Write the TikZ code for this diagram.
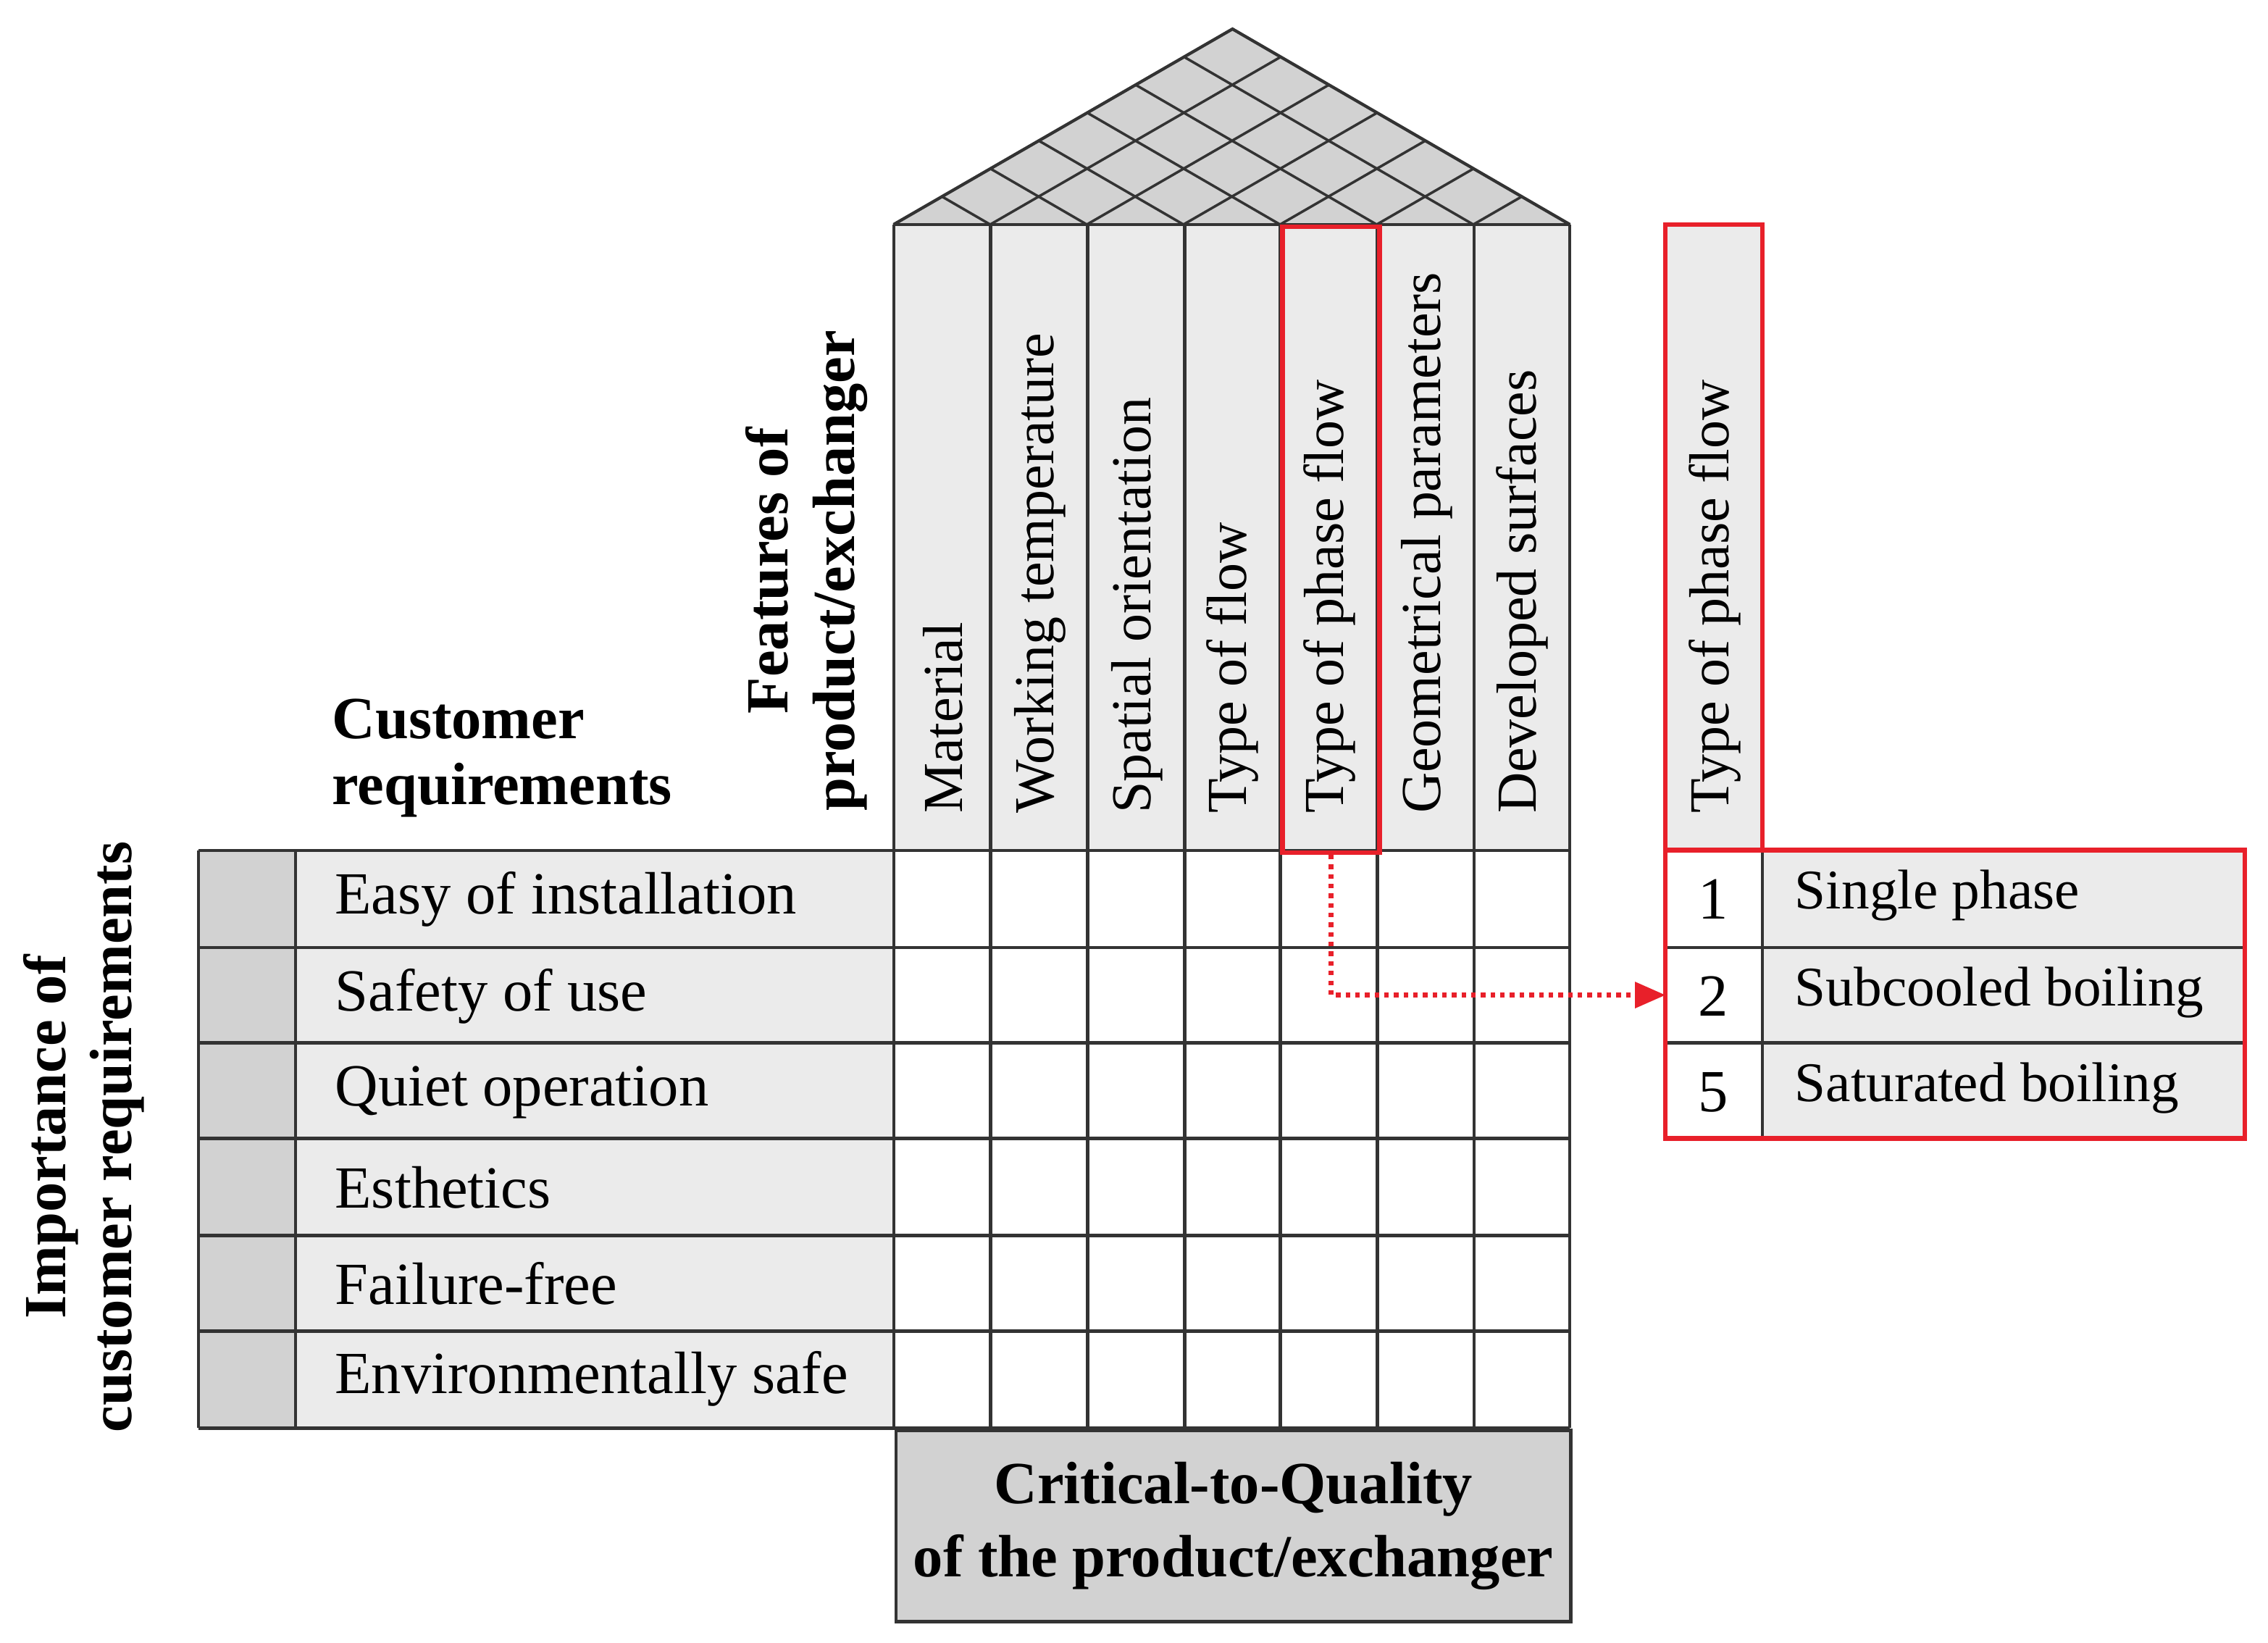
\documentclass[tikz,border=0pt]{standalone}
\usepackage{fontspec}
\setmainfont{Liberation Serif}
\usetikzlibrary{arrows.meta}
\definecolor{cellg}{HTML}{EBEBEB}
\definecolor{darkg}{HTML}{D2D2D2}
\definecolor{redq}{HTML}{E8202A}
\definecolor{linec}{HTML}{333333}
\begin{document}
\begin{tikzpicture}[x=0.02cm,y=-0.02cm,
  grid/.style={draw=linec,line width=1.2pt},
  txt/.style={font=\fontsize{23.5}{28}\selectfont,inner sep=0pt},
  rtxt/.style={font=\fontsize{22}{26}\selectfont,inner sep=0pt},
  htxt/.style={font=\fontsize{22.2}{26}\selectfont,inner sep=0pt},
  btxt/.style={font=\fontsize{23.5}{28}\selectfont\bfseries,inner sep=0pt},
  hdr/.style={htxt,rotate=90,anchor=west},
  redbox/.style={draw=redq,line width=1.8pt}]
\useasboundingbox (0,0) rectangle (1566,1134);
\fill[white] (0,0) rectangle (1566,1134);
% roof
\fill[darkg] (617,155)--(851,20)--(1084,155)--cycle;
\foreach \i in {0,...,7}{
  \pgfmathsetmacro\xi{617+\i*66.714}
  \pgfmathsetmacro\f{(7-\i)/7}
  \draw[grid,line width=1pt] (\xi,155) -- ++({\f*234},{-\f*135});
  \draw[grid,line width=1pt] (\xi,155) -- ++({-\i/7*233},{-\i/7*135});
}
\draw[grid] (617,155)--(851,20)--(1084,155);
% header columns
\fill[cellg] (617,155) rectangle (1084,587);
\foreach \x in {617,684,751,818,884,951,1018,1084}{\draw[grid] (\x,155)--(\x,587);}
\draw[grid] (617,155)--(1084,155);
\foreach \x/\t in {651/Material,718/Working temperature,785/Spatial orientation,851/Type of flow,918/Type of phase flow,985/Geometrical parameters,1051/Developed surfaces}{
  \node[hdr] at (\x,562) {\t};}
% left rows
\fill[darkg] (137,587) rectangle (204,986);
\fill[cellg] (204,587) rectangle (617,986);
\foreach \y in {587,654,720,786,853,919,986}{\draw[grid] (137,\y)--(1084,\y);}
\foreach \x in {137,204,617,684,751,818,884,951,1018,1084}{\draw[grid] (\x,587)--(\x,986);}
\foreach \y/\t in {621/Easy of installation,688/Safety of use,754/Quiet operation,820/Esthetics,886/Failure-free,952/Environmentally safe}{
  \node[txt,anchor=west] at (231,\y) {\t};}
% bottom box
\node[btxt,draw=linec,line width=1.2pt,fill=darkg,minimum width=466*0.02cm,minimum height=132*0.02cm,align=center,anchor=north west] (ctq) at (617.5,986.5) {Critical-to-Quality\\[1pt]of the product/exchanger};
% labels
\node[btxt,align=left,anchor=north west] at (229,482) {Customer\\[-2pt]requirements};
\node[btxt,rotate=90,align=center] at (557,394) {Features of\\[-2pt]product/exchanger};
\node[btxt,rotate=90,align=center] at (58,785) {Importance of\\[-2pt]customer requirements};
% red highlight
\node[redbox,minimum width=67*0.02cm,minimum height=432*0.02cm,anchor=north west,inner sep=0pt] (phase) at (884,155) {};
% right table
\fill[cellg] (1150,155) rectangle (1217,587);
\fill[cellg] (1217,587) rectangle (1550,786);
\fill[white] (1150,587) rectangle (1217,786);
\foreach \y in {654,720}{\draw[grid] (1150,\y)--(1550,\y);}
\draw[grid] (1217,587)--(1217,786);
\node[hdr] at (1184,562) {Type of phase flow};
\draw[redbox] (1150,587)--(1150,155)--(1217,155)--(1217,587);
\draw[redbox] (1150,587) rectangle (1550,786);
\node[txt] at (1183,621) {1};
\node[txt] (n2) at (1183,688) {2};
\node[txt] at (1183,754) {5};
\foreach \y/\t in {618/Single phase,685/Subcooled boiling,751/Saturated boiling}{
  \node[rtxt,anchor=west] at (1239,\y) {\t};}
\coordinate (tgt) at (1150,687);
\draw[redq,line width=1.8pt,dotted,-{Triangle[length=12pt,width=10pt]}] (phase.south) |- (tgt);
\end{tikzpicture}
\end{document}
